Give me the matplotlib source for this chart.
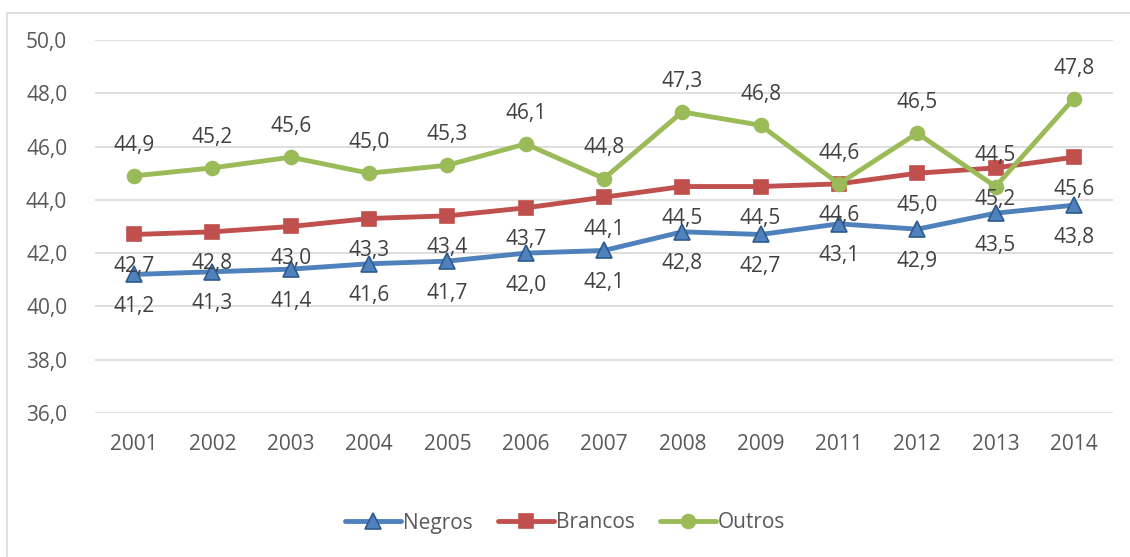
import matplotlib.pyplot as plt
from matplotlib.patches import Rectangle

years = ["2001", "2002", "2003", "2004", "2005", "2006", "2007",
         "2008", "2009", "2011", "2012", "2013", "2014"]
negros = [41.2, 41.3, 41.4, 41.6, 41.7, 42.0, 42.1, 42.8, 42.7, 43.1, 42.9, 43.5, 43.8]
brancos = [42.7, 42.8, 43.0, 43.3, 43.4, 43.7, 44.1, 44.5, 44.5, 44.6, 45.0, 45.2, 45.6]
outros = [44.9, 45.2, 45.6, 45.0, 45.3, 46.1, 44.8, 47.3, 46.8, 44.6, 46.5, 44.5, 47.8]

plt.rcParams['font.family'] = ['Open Sans', 'DejaVu Sans']

fig = plt.figure(figsize=(11.3, 5.57), dpi=100)
ax = fig.add_axes([95 / 1130, 1 - 413 / 557, (1113 - 95) / 1130, (413 - 40) / 557])

# outer chart border (cut off at right / bottom like the screenshot)
fig.patches.append(Rectangle((7 / 1130, -0.1), 1.2, 1.1 - 13 / 557,
                             transform=fig.transFigure, fill=False,
                             edgecolor="#d9d9d9", linewidth=1.2))

x = list(range(len(years)))
series = [
    ("Negros", negros, "#4F81BD", "^", "#2E5A8E", 11, -23),
    ("Brancos", brancos, "#C0504D", "s", "#C0504D", 10, -23),
    ("Outros", outros, "#9BBB59", "o", "#9BBB59", 10, 22),
]
for name, vals, col, mk, edge, ms, off in series:
    ax.plot(x, vals, color=col, lw=3.5, marker=mk, markersize=ms,
            markerfacecolor=col, markeredgecolor=edge, markeredgewidth=1.2,
            label=name, solid_capstyle="round", zorder=3)
    for xi, v in zip(x, vals):
        ax.annotate(f"{v:.1f}".replace(".", ","), (xi, v), xytext=(0, off),
                    textcoords="offset points", ha="center", va="center",
                    fontsize=15, color="#404040", zorder=4)

ax.set_xlim(-0.5, len(years) - 0.5)
ax.set_ylim(36, 50)
ax.set_yticks(range(36, 51, 2))
ax.set_yticklabels([f"{t},0" for t in range(36, 51, 2)])
ax.set_xticks(x)
ax.set_xticklabels(years)
ax.grid(axis="y", color="#d9d9d9", lw=1.2)
ax.set_axisbelow(True)
for s in ax.spines.values():
    s.set_visible(False)
ax.tick_params(length=0, labelsize=15, labelcolor="#595959")
ax.tick_params(axis="x", pad=15)
ax.tick_params(axis="y", pad=20)

fig.legend(loc="center", bbox_to_anchor=(0.5, 1 - 523 / 557), ncol=3,
           frameon=False, fontsize=15, labelcolor="#595959",
           handlelength=2.7, handletextpad=0.1, columnspacing=1.2)

fig.savefig("out.png", dpi=100)
